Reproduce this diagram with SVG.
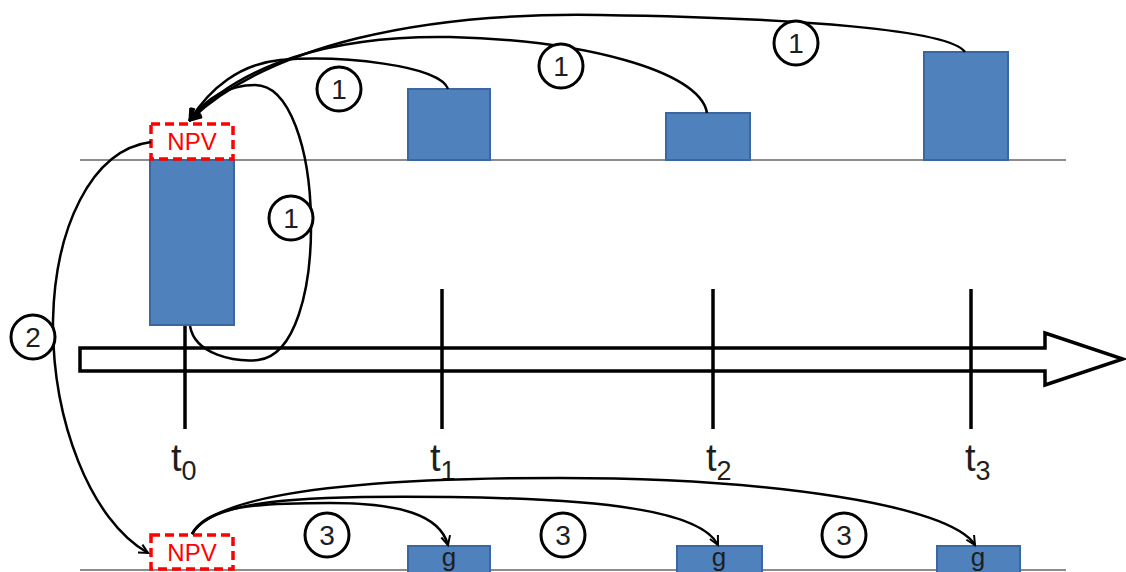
<svg xmlns="http://www.w3.org/2000/svg" width="1126" height="572" viewBox="0 0 1126 572">
<style>
.base{stroke:#8c8c8c;stroke-width:2;fill:none}
.bar{fill:#4f81bd;stroke:#3a679f;stroke-width:2}
.npv{fill:#fff;stroke:#ff0000;stroke-width:3.5;stroke-dasharray:9 5}
.npvt{font-family:"Liberation Sans",Arial,sans-serif;font-size:24px;fill:#ff0000;text-anchor:middle}
.tick{stroke:#000;stroke-width:3.5}
.conn{fill:none;stroke:#000;stroke-width:2.5}
.badge circle{fill:#fff;stroke:#000;stroke-width:3}
.badge text{font-family:"Liberation Sans",Arial,sans-serif;font-size:28px;fill:#1e1e1e;text-anchor:middle}
.tl{font-family:"Liberation Sans",Arial,sans-serif;font-size:38px;fill:#1e1e1e}
.tl tspan.s{font-size:27px}
.gt{font-family:"Liberation Sans",Arial,sans-serif;font-size:26px;fill:#1e1e1e;text-anchor:middle}
</style>
<defs>
<marker id="bigArrow" viewBox="0 0 14 14" refX="12" refY="7" markerWidth="14" markerHeight="14" markerUnits="userSpaceOnUse" orient="auto">
<path d="M1,1 L12,7 L1,13" fill="none" stroke="#000" stroke-width="3"/>
</marker>
<marker id="smallArrow" viewBox="0 0 12 12" refX="10" refY="6" markerWidth="12" markerHeight="12" markerUnits="userSpaceOnUse" orient="auto">
<path d="M1,1.5 L10,6 L1,10.5" fill="none" stroke="#000" stroke-width="2"/>
</marker>
</defs>
<rect width="1126" height="572" fill="#fff"/>

<g id="baselines">
<line class="base" x1="80" y1="160" x2="1066" y2="160"/>
<line class="base" x1="80" y1="570" x2="1066" y2="570"/>
</g>

<g id="timeline">
<polygon points="80,348 1045,348 1045,333 1123,359 1045,385 1045,371 80,371" fill="#fff" stroke="#000" stroke-width="3.5" stroke-linejoin="miter"/>
<line class="tick" x1="185" y1="325" x2="185" y2="429"/>
<line class="tick" x1="442" y1="289" x2="442" y2="429"/>
<line class="tick" x1="713" y1="289" x2="713" y2="429"/>
<line class="tick" x1="971" y1="289" x2="971" y2="429"/>
<text class="tl" x="171" y="471">t<tspan class="s" dy="9">0</tspan></text>
<text class="tl" x="430" y="471">t<tspan class="s" dy="9">1</tspan></text>
<text class="tl" x="706" y="471">t<tspan class="s" dy="9">2</tspan></text>
<text class="tl" x="965" y="471">t<tspan class="s" dy="9">3</tspan></text>
</g>

<g id="cf0"><rect class="bar" x="150" y="160" width="84" height="165"/></g>
<g id="cf1"><rect class="bar" x="408" y="89" width="82" height="71"/></g>
<g id="cf2"><rect class="bar" x="666" y="113" width="84" height="47"/></g>
<g id="cf3"><rect class="bar" x="924" y="52" width="84" height="108"/></g>
<g id="npvTop"><rect class="npv" x="151" y="124" width="82" height="35"/><text class="npvt" x="192" y="150">NPV</text></g>

<g id="npvBottom"><rect class="npv" x="151" y="535" width="82" height="34"/><text class="npvt" x="192" y="561">NPV</text></g>
<g id="g1"><rect class="bar" x="408" y="546" width="82" height="30"/><text class="gt" x="449" y="566">g</text></g>
<g id="g2"><rect class="bar" x="677" y="546" width="85" height="30"/><text class="gt" x="719" y="566">g</text></g>
<g id="g3"><rect class="bar" x="937" y="546" width="83" height="30"/><text class="gt" x="978" y="566">g</text></g>

<g id="connectors">
<path class="conn" d="M448,89 C440,65 340,55 280,60 C240,64 210,88 190,120" marker-end="url(#bigArrow)"/>
<path class="conn" d="M707,113 C700,70 580,40 450,37 C330,35 240,65 190,120" marker-end="url(#bigArrow)"/>
<path class="conn" d="M965,52 C950,30 800,18 600,15 C420,12 270,45 190,120" marker-end="url(#bigArrow)"/>
<path class="conn" d="M190,326 C195,355 235,362 258,360 C295,356 312,290 311,220 C310,150 290,85 255,85 C225,85 205,100 190,120"/>
<path class="conn" d="M151,142 C90,150 55,230 53,320 C52,420 90,520 148,553" marker-end="url(#smallArrow)"/>
<path class="conn" d="M192,534 C207,505 260,503 330,503 C400,503 440,515 448,545" marker-end="url(#smallArrow)"/>
<path class="conn" d="M192,534 C210,500 300,495 450,497 C600,499 700,510 718,545" marker-end="url(#smallArrow)"/>
<path class="conn" d="M192,534 C215,495 350,478 560,478 C770,478 950,505 975,545" marker-end="url(#smallArrow)"/>
</g>

<g id="labels">
<g class="badge"><circle cx="339" cy="89" r="22"/><text x="339" y="99">1</text></g>
<g class="badge"><circle cx="561" cy="66" r="22"/><text x="561" y="76">1</text></g>
<g class="badge"><circle cx="796" cy="43" r="22"/><text x="796" y="53">1</text></g>
<g class="badge"><circle cx="291" cy="218" r="22"/><text x="291" y="228">1</text></g>
<g class="badge"><circle cx="33" cy="337" r="22"/><text x="33" y="347">2</text></g>
<g class="badge"><circle cx="327" cy="535" r="22"/><text x="327" y="545">3</text></g>
<g class="badge"><circle cx="563" cy="535" r="22"/><text x="563" y="545">3</text></g>
<g class="badge"><circle cx="844" cy="535" r="22"/><text x="844" y="545">3</text></g>
</g>
</svg>
